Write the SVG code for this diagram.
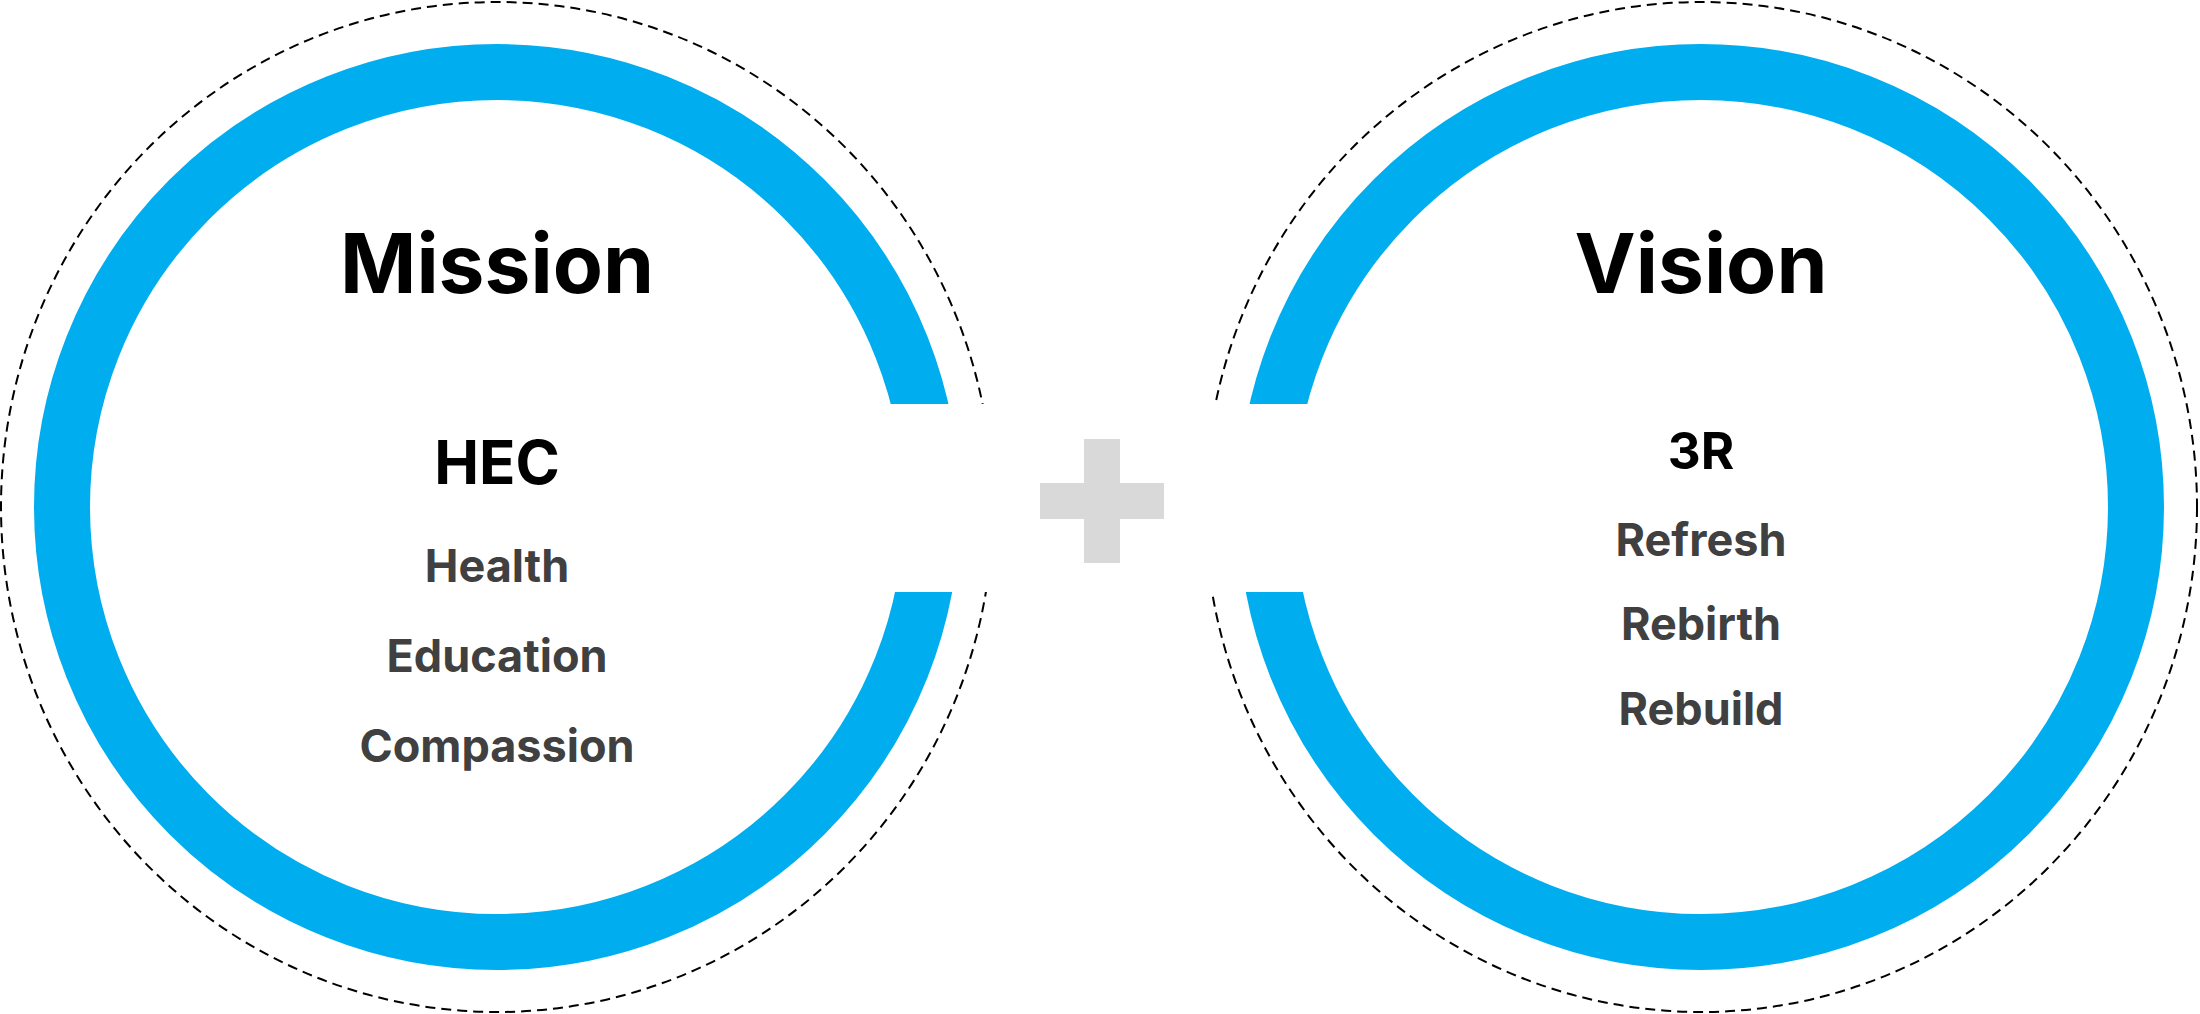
<svg xmlns="http://www.w3.org/2000/svg" width="2200" height="1014" viewBox="0 0 2200 1014">
<style>
.ring{fill:none;stroke:#00AEEF;stroke-width:56}
.dash{fill:none;stroke:#000;stroke-width:2;stroke-dasharray:10 6}
text{font-family:Inter,"Noto Sans","Liberation Sans",sans-serif;font-weight:700;text-anchor:middle}
.title{font-size:82px;fill:#000}
.head{fill:#000}
.item{font-size:45px;fill:#404040}
</style>
<rect width="2200" height="1014" fill="#fff"/>
<g id="mission">
<ellipse class="dash" cx="497" cy="507" rx="496" ry="505"/>
<circle class="ring" cx="497" cy="507" r="435"/>
</g>
<g id="vision">
<ellipse class="dash" cx="1701" cy="507" rx="496" ry="505"/>
<circle class="ring" cx="1701" cy="507" r="435"/>
</g>
<rect x="860" y="404" width="480" height="188" fill="#fff"/>
<g id="plus">
<rect x="1040" y="483" width="124" height="36" fill="#D9D9D9"/>
<rect x="1084" y="439" width="36" height="124" fill="#D9D9D9"/>
</g>
<g id="mission-text">
<text class="title" x="497" y="293">Mission</text>
<text class="head" x="497" y="484" font-size="60">HEC</text>
<text class="item" x="497" y="582">Health</text>
<text class="item" x="497" y="672">Education</text>
<text class="item" x="497" y="762">Compassion</text>
</g>
<g id="vision-text">
<text class="title" x="1701" y="293">Vision</text>
<text class="head" x="1701" y="469" font-size="51">3R</text>
<text class="item" x="1701" y="556">Refresh</text>
<text class="item" x="1701" y="640">Rebirth</text>
<text class="item" x="1701" y="725">Rebuild</text>
</g>
<g id="connectors"/>
</svg>
